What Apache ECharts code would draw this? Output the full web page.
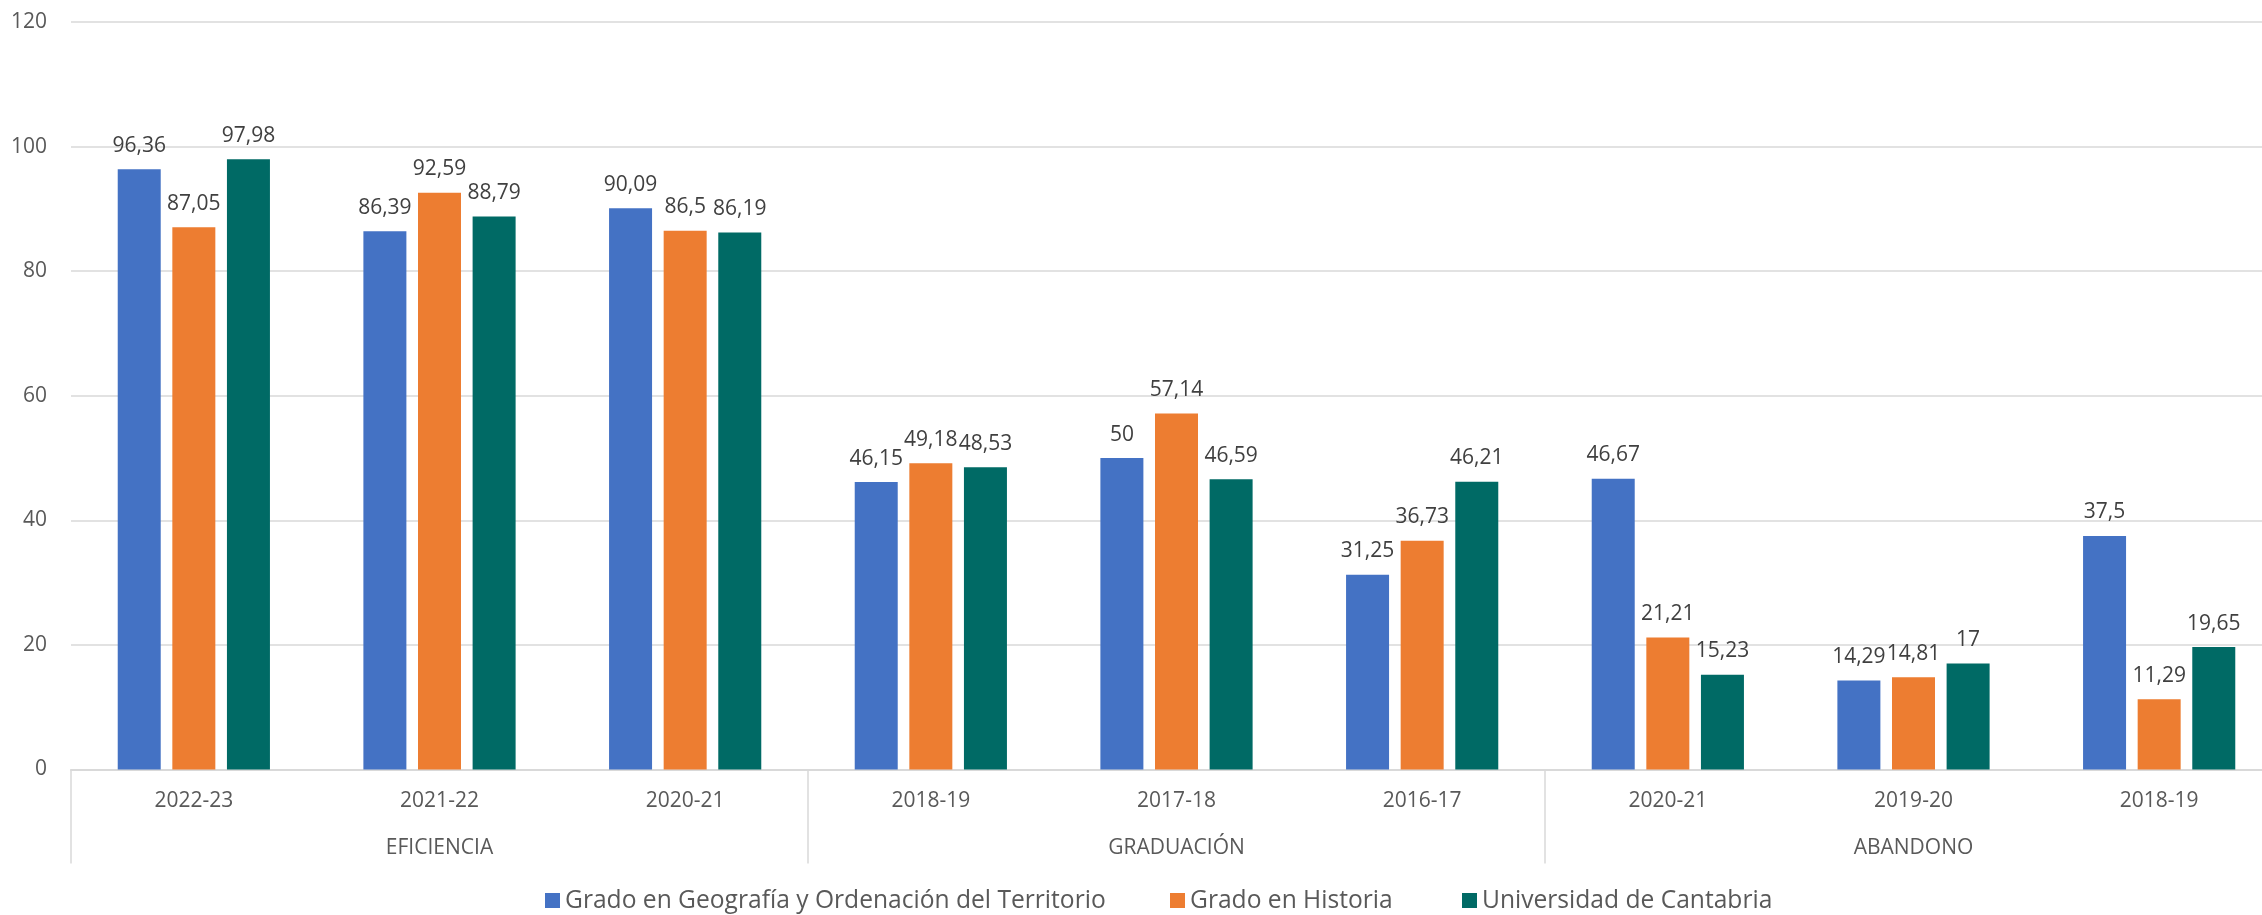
<!DOCTYPE html>
<html>
<head>
<meta charset="utf-8">
<script src="https://cdn.jsdelivr.net/npm/echarts@6/dist/echarts.min.js"></script>
<style>
html,body{margin:0;padding:0;background:#fff;}
#chart{width:2262px;height:915px;}
</style>
</head>
<body>
<div id="chart"></div>
<script>
// ---- data ----
const years = ['2022-23','2021-22','2020-21','2018-19','2017-18','2016-17','2020-21','2019-20','2018-19'];
const groups = ['EFICIENCIA','GRADUACIÓN','ABANDONO'];
const seriesNames = ['Grado en Geografía y Ordenación del Territorio','Grado en Historia','Universidad de Cantabria'];
const geografia = [96.36, 86.39, 90.09, 46.15, 50, 31.25, 46.67, 14.29, 37.5];
const historia  = [87.05, 92.59, 86.5, 49.18, 57.14, 36.73, 21.21, 14.81, 11.29];
const cantabria = [97.98, 88.79, 86.19, 48.53, 46.59, 46.21, 15.23, 17, 19.65];
const yTicks = [0, 20, 40, 60, 80, 100, 120];

const colors = ['#4472C4', '#ED7D31', '#006A65'];
const FONT = 'Open Sans';
const fmt = p => String(p.value).replace('.', ',');

const chart = echarts.init(document.getElementById('chart'), null, {renderer: 'canvas'});

function mkSeries(name, data, color) {
  return {
    name: name,
    type: 'bar',
    xAxisIndex: 0,
    data: data,
    barWidth: 43,
    barGap: '27%',
    itemStyle: {color: color},
    label: {
      show: true,
      position: 'top',
      distance: 13,
      formatter: fmt,
      color: '#404040',
      fontFamily: FONT,
      fontSize: 21
    },
    emphasis: {disabled: true}
  };
}

function mkLegend(name, left) {
  return {
    data: [name],
    left: left,
    top: 888,
    icon: 'rect',
    itemWidth: 15,
    itemHeight: 15,
    padding: 0,
    textStyle: {color: '#595959', fontFamily: FONT, fontSize: 24.6}
  };
}

chart.setOption({
  animation: false,
  color: colors,
  textStyle: {fontFamily: FONT},
  grid: {left: 71, top: 22, width: 2211, height: 747.5, containLabel: false, outerBoundsMode: 'none'},
  legend: [
    mkLegend(seriesNames[0], 545),
    mkLegend(seriesNames[1], 1170),
    mkLegend(seriesNames[2], 1462)
  ],
  xAxis: [
    {
      type: 'category',
      data: years,
      position: 'bottom',
      axisLine: {show: true, lineStyle: {color: '#d9d9d9', width: 2}},
      axisTick: {show: false},
      axisLabel: {color: '#595959', fontFamily: FONT, fontSize: 21, margin: 21, interval: 0},
      splitLine: {show: false}
    },
    {
      type: 'category',
      data: groups,
      position: 'bottom',
      offset: 0,
      axisLine: {show: false},
      axisTick: {show: true, length: 94, interval: 0, lineStyle: {color: '#d9d9d9', width: 1.5}},
      axisLabel: {color: '#595959', fontFamily: FONT, fontSize: 21, margin: 68, interval: 0},
      splitLine: {show: false}
    }
  ],
  yAxis: {
    type: 'value',
    min: yTicks[0],
    max: yTicks[yTicks.length - 1],
    interval: 20,
    axisLine: {show: false},
    axisTick: {show: false},
    axisLabel: {color: '#595959', fontFamily: FONT, fontSize: 21, margin: 24},
    splitLine: {lineStyle: {color: '#d9d9d9', width: 1.5}}
  },
  series: [
    mkSeries(seriesNames[0], geografia, colors[0]),
    mkSeries(seriesNames[1], historia, colors[1]),
    mkSeries(seriesNames[2], cantabria, colors[2])
  ]
});
</script>
</body>
</html>
